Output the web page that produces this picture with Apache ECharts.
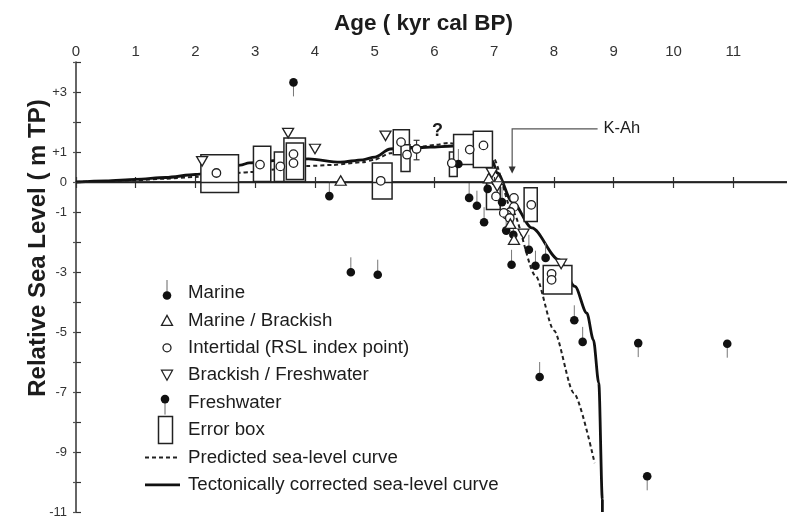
<!DOCTYPE html>
<html>
<head>
<meta charset="utf-8">
<script src="https://cdn.jsdelivr.net/npm/echarts@6/dist/echarts.min.js"></script>
<style>
  html, body { margin: 0; padding: 0; background: #fff; }
  #chart { width: 787px; height: 520px; }
</style>
</head>
<body>
<div id="chart"></div>
<script>
// Relative sea-level observations, ages in kyr cal BP, levels in m TP
const marine = [
  [4.24, -0.47], [4.60, -3.01], [5.05, -3.09], [6.40, 0.60], [6.89, -0.23],
  [6.58, -0.53], [6.71, -0.79], [7.13, -0.67], [6.83, -1.34], [7.20, -1.62],
  [7.32, -1.76], [7.58, -2.26], [7.86, -2.53], [7.29, -2.76], [7.69, -2.79],
  [8.34, -4.61], [8.48, -5.33], [7.76, -6.50]
];
const marineBrackish = [
  [4.43, 0.05], [6.91, 0.13], [7.07, 0.08], [7.27, -1.39], [7.33, -1.92]
];
const intertidal = [
  [2.35, 0.30], [3.08, 0.58], [3.42, 0.52], [3.64, 0.93], [3.64, 0.63],
  [5.10, 0.04], [5.44, 1.33], [5.54, 0.91], [5.70, 1.10], [6.29, 0.63],
  [6.59, 1.08], [6.82, 1.22], [7.03, -0.48], [7.33, -0.53], [7.33, -0.83],
  [7.27, -1.00], [7.21, -1.09], [7.16, -1.03], [7.26, -1.20], [7.62, -0.76],
  [7.96, -3.06], [7.96, -3.26]
];
const brackishFreshwater = [
  [2.11, 0.69], [3.55, 1.63], [4.00, 1.10], [5.18, 1.54], [6.96, 0.30],
  [7.05, -0.15], [7.49, -1.73], [8.12, -2.73]
];
const freshwater = [
  [3.64, 3.32], [9.41, -5.37], [10.90, -5.39], [9.56, -9.81]
];
// vertical uncertainty of an index point: [age, lower, upper]
const indexPointRange = [[5.70, 0.74, 1.39]];
// error boxes: [age from, age to, level low, level high]
const errorBoxes = [
  [2.09, 2.72, -0.35, 0.91], [2.97, 3.26, 0.02, 1.19], [3.32, 3.50, 0.02, 1.00],
  [3.48, 3.84, 0.02, 1.47], [3.52, 3.81, 0.08, 1.30], [4.96, 5.29, -0.57, 0.63],
  [5.31, 5.58, 0.91, 1.74], [5.44, 5.59, 0.35, 1.24], [6.25, 6.38, 0.18, 1.00],
  [6.32, 6.90, 0.58, 1.58], [6.65, 6.97, 0.48, 1.69], [6.87, 7.10, -0.92, -0.02],
  [7.50, 7.72, -1.32, -0.19], [7.82, 8.30, -3.73, -2.78]
];
const predictedCurve = [
  [0, 0], [0.5, 0.03], [1, 0.06], [1.5, 0.11], [2, 0.17], [2.4, 0.24], [2.75, 0.31],
  [2.9, 0.33], [3.4, 0.43], [3.85, 0.53], [4.3, 0.57], [4.8, 0.66], [5.0, 0.75],
  [5.26, 0.96], [5.6, 1.12], [6.02, 1.24], [6.23, 1.30], [6.6, 1.18], [6.85, 1.05],
  [6.98, 0.81], [7.3, -0.96], [7.69, -3.12], [8.0, -4.95], [8.33, -7.03], [8.68, -9.37]
];
const correctedCurve = [
  [0, 0], [0.5, 0.04], [1, 0.09], [1.5, 0.15], [2, 0.25], [2.4, 0.40], [2.75, 0.56],
  [2.9, 0.64], [3.4, 0.72], [3.89, 0.77], [4.42, 0.66], [4.8, 0.74], [5.0, 0.83],
  [5.26, 1.10], [5.5, 1.15], [5.79, 1.15], [5.93, 1.16], [6.3, 1.20], [6.7, 1.10],
  [6.97, 0.70], [7.05, 0.30], [7.3, -0.65], [7.63, -1.53], [8.08, -2.59],
  [8.35, -3.48], [8.55, -4.37], [8.66, -5.26], [8.75, -6.70], [8.81, -10.59], [8.81, -11]
];
// tephra marker: [age, arrow tip level, bracket level, bracket end age]
const tephra = [[7.30, 0.28, 1.77, 8.73]];
const tephraLabel = 'K-Ah';
const queryMarks = [[6.05, 1.71]];
const ageTicks = [0, 1, 2, 3, 4, 5, 6, 7, 8, 9, 10, 11];
const levelTicks = [-11, -10, -9, -8, -7, -6, -5, -4, -3, -2, -1, 0, 1, 2, 3, 4];
const levelLabels = [3, 1, 0, -1, -3, -5, -7, -9, -11];

const FONT = "'Liberation Sans', Arial, sans-serif";
const INK = '#1c1c1c';
const AXIS = '#333';

const chart = echarts.init(document.getElementById('chart'), null, { renderer: 'canvas' });

const levelFormatter = v => {
  if (!levelLabels.includes(v)) return '';
  return v > 0 ? '+' + v : String(v);
};

const legendRows = [
  'Marine', 'Marine / Brackish', 'Intertidal (RSL index point)', 'Brackish / Freshwater',
  'Freshwater', 'Error box', 'Predicted sea-level curve', 'Tectonically corrected sea-level curve'
];
const rowY = i => 293 + 27.4 * i;
const legendGraphics = [];
legendRows.forEach((t, i) => {
  legendGraphics.push({
    type: 'text', x: 188, y: rowY(i), z: 100,
    style: { text: t, font: '18.7px ' + FONT, fill: INK, verticalAlign: 'middle' }
  });
});
legendGraphics.push(
  { type: 'line', shape: { x1: 167, y1: rowY(0) - 13, x2: 167, y2: rowY(0) + 1 }, style: { stroke: '#666', lineWidth: 1 }, z: 100 },
  { type: 'circle', shape: { cx: 167, cy: rowY(0) + 2.5, r: 4.3 }, style: { fill: '#111' }, z: 100 },
  { type: 'polygon', shape: { points: [[161.5, rowY(1) + 5], [172.5, rowY(1) + 5], [167, rowY(1) - 5]] }, style: { fill: '#fff', stroke: '#222', lineWidth: 1.3 }, z: 100 },
  { type: 'circle', shape: { cx: 167, cy: rowY(2), r: 4 }, style: { fill: '#fff', stroke: '#222', lineWidth: 1.3 }, z: 100 },
  { type: 'polygon', shape: { points: [[161.5, rowY(3) - 5], [172.5, rowY(3) - 5], [167, rowY(3) + 5]] }, style: { fill: '#fff', stroke: '#222', lineWidth: 1.3 }, z: 100 },
  { type: 'line', shape: { x1: 165, y1: rowY(4) - 2, x2: 165, y2: rowY(4) + 12 }, style: { stroke: '#666', lineWidth: 1 }, z: 100 },
  { type: 'circle', shape: { cx: 165, cy: rowY(4) - 3.5, r: 4.3 }, style: { fill: '#111' }, z: 100 },
  { type: 'rect', shape: { x: 158.5, y: rowY(5) - 13.5, width: 14, height: 27 }, style: { fill: '#fff', stroke: '#222', lineWidth: 1.5 }, z: 100 },
  { type: 'line', shape: { x1: 145, y1: rowY(6), x2: 180, y2: rowY(6) }, style: { stroke: '#222', lineWidth: 2, lineDash: [4, 3] }, z: 100 },
  { type: 'line', shape: { x1: 145, y1: rowY(7), x2: 180, y2: rowY(7) }, style: { stroke: '#111', lineWidth: 2.8 }, z: 100 }
);

const option = {
  animation: false,
  backgroundColor: '#fff',
  textStyle: { fontFamily: FONT },
  grid: { left: 76, right: 0, top: 62, bottom: 8, containLabel: false },
  xAxis: [
    {
      type: 'value', position: 'top', min: 0, max: 11.9, interval: 1,
      name: 'Age ( kyr cal BP)', nameLocation: 'middle', nameGap: 27,
      nameTextStyle: { fontSize: 22.5, fontWeight: 'bold', color: INK, fontFamily: FONT, padding: [0, 16, 0, 0] },
      axisLine: { lineStyle: { color: AXIS, width: 1.5 } },
      axisTick: { inside: true, length: 6, customValues: ageTicks, lineStyle: { color: AXIS, width: 1.2 } },
      axisLabel: { fontSize: 15, color: '#333', margin: 3, fontFamily: FONT, customValues: ageTicks },
      splitLine: { show: false }
    },
    {
      type: 'value', position: 'bottom', min: 0, max: 11.9, interval: 1,
      axisLine: { lineStyle: { color: AXIS, width: 1.5 } },
      axisTick: { inside: true, length: 5, customValues: ageTicks, lineStyle: { color: AXIS, width: 1.2 } },
      axisLabel: { show: false },
      splitLine: { show: false }
    }
  ],
  yAxis: [
    {
      type: 'value', position: 'left', min: -11, max: 4, interval: 1,
      name: 'Relative Sea Level ( m TP)', nameLocation: 'middle', nameGap: 26, nameRotate: 90,
      nameMoveOverlap: false,
      nameTextStyle: { fontSize: 24, fontWeight: 'bold', color: INK, fontFamily: FONT, padding: [0, 0, 0, 78] },
      axisLine: { lineStyle: { color: AXIS, width: 1.5 } },
      axisTick: { inside: true, length: 5, lineStyle: { color: AXIS, width: 1.2 } },
      axisLabel: { fontSize: 13, color: '#333', margin: 9, fontFamily: FONT, formatter: levelFormatter },
      splitLine: { show: false }
    },
    {
      type: 'value', position: 'right', min: -11, max: 4, interval: 1,
      axisLine: { show: false },
      axisTick: { inside: true, length: 3, customValues: levelTicks, lineStyle: { color: '#555', width: 1.2 } },
      axisLabel: { show: false },
      splitLine: { show: false }
    }
  ],
  graphic: legendGraphics,
  series: [
    {
      name: 'Predicted sea-level curve', type: 'line', data: predictedCurve, z: 1,
      showSymbol: false, smooth: 0.25, smoothMonotone: 'x', silent: true,
      lineStyle: { color: '#222', width: 2, type: [4, 3] },
      markLine: {
        silent: true, symbol: ['none', 'none'], label: { show: false },
        lineStyle: { color: '#222', width: 1.4, type: 'solid' },
        data: [{ yAxis: 0 }]
      }
    },
    {
      name: 'Tectonically corrected sea-level curve', type: 'line', data: correctedCurve, z: 1,
      showSymbol: false, smooth: 0.3, smoothMonotone: 'x', silent: true,
      lineStyle: { color: '#111', width: 2.8 }
    },
    {
      name: 'Error box', type: 'custom', z: 2, data: errorBoxes,
      encode: { x: [0, 1], y: [2, 3] },
      renderItem: (params, api) => {
        const a = api.coord([api.value(0), api.value(3)]);
        const b = api.coord([api.value(1), api.value(2)]);
        return {
          type: 'rect',
          shape: { x: a[0], y: a[1], width: b[0] - a[0], height: b[1] - a[1] },
          style: { fill: '#fff', stroke: '#222', lineWidth: 1.5 }
        };
      }
    },
    {
      name: 'Index point range', type: 'custom', z: 3, data: indexPointRange,
      encode: { x: 0, y: [1, 2] },
      renderItem: (params, api) => {
        const lo = api.coord([api.value(0), api.value(1)]);
        const hi = api.coord([api.value(0), api.value(2)]);
        const st = { stroke: '#333', lineWidth: 1.2 };
        return {
          type: 'group', children: [
            { type: 'line', shape: { x1: lo[0], y1: lo[1], x2: hi[0], y2: hi[1] }, style: st },
            { type: 'line', shape: { x1: lo[0] - 3, y1: lo[1], x2: lo[0] + 3, y2: lo[1] }, style: st },
            { type: 'line', shape: { x1: hi[0] - 3, y1: hi[1], x2: hi[0] + 3, y2: hi[1] }, style: st }
          ]
        };
      }
    },
    {
      name: 'Marine', type: 'custom', z: 4, data: marine,
      renderItem: (params, api) => {
        const p = api.coord([api.value(0), api.value(1)]);
        return {
          type: 'group', children: [
            { type: 'line', shape: { x1: p[0], y1: p[1] - 15, x2: p[0], y2: p[1] }, style: { stroke: '#777', lineWidth: 1 } },
            { type: 'circle', shape: { cx: p[0], cy: p[1], r: 4.3 }, style: { fill: '#111' } }
          ]
        };
      }
    },
    {
      name: 'Freshwater', type: 'custom', z: 4, data: freshwater,
      renderItem: (params, api) => {
        const p = api.coord([api.value(0), api.value(1)]);
        return {
          type: 'group', children: [
            { type: 'line', shape: { x1: p[0], y1: p[1], x2: p[0], y2: p[1] + 14 }, style: { stroke: '#777', lineWidth: 1 } },
            { type: 'circle', shape: { cx: p[0], cy: p[1], r: 4.3 }, style: { fill: '#111' } }
          ]
        };
      }
    },
    {
      name: 'Intertidal (RSL index point)', type: 'scatter', z: 5, data: intertidal,
      symbol: 'circle', symbolSize: 8.5,
      itemStyle: { color: '#fff', borderColor: '#222', borderWidth: 1.3, opacity: 1 }
    },
    {
      name: 'Marine / Brackish', type: 'scatter', z: 5, data: marineBrackish,
      symbol: 'triangle', symbolSize: [11, 9.5],
      itemStyle: { color: '#fff', borderColor: '#222', borderWidth: 1.3, opacity: 1 }
    },
    {
      name: 'Brackish / Freshwater', type: 'scatter', z: 5, data: brackishFreshwater,
      symbol: 'triangle', symbolSize: [11, 9.5], symbolRotate: 180,
      itemStyle: { color: '#fff', borderColor: '#222', borderWidth: 1.3, opacity: 1 }
    },
    {
      name: tephraLabel, type: 'custom', z: 6, data: tephra,
      encode: { x: [0, 3], y: [1, 2] },
      renderItem: (params, api) => {
        const tip = api.coord([api.value(0), api.value(1)]);
        const top = api.coord([api.value(0), api.value(2)]);
        const end = api.coord([api.value(3), api.value(2)]);
        return {
          type: 'group', children: [
            { type: 'polyline', shape: { points: [[end[0], end[1]], [top[0], top[1]], [tip[0], tip[1] - 6]] }, style: { stroke: '#555', lineWidth: 1.2, fill: null } },
            { type: 'polygon', shape: { points: [[tip[0] - 3.5, tip[1] - 7], [tip[0] + 3.5, tip[1] - 7], [tip[0], tip[1]]] }, style: { fill: '#333' } },
            { type: 'text', style: { text: tephraLabel, x: end[0] + 6, y: end[1], verticalAlign: 'middle', font: '16.5px ' + FONT, fill: INK } }
          ]
        };
      }
    },
    {
      name: 'query', type: 'custom', z: 6, data: queryMarks,
      renderItem: (params, api) => {
        const p = api.coord([api.value(0), api.value(1)]);
        return {
          type: 'text',
          style: { text: '?', x: p[0], y: p[1], align: 'center', verticalAlign: 'middle', font: 'bold 18px ' + FONT, fill: INK }
        };
      }
    }
  ]
};
chart.setOption(option);
</script>
</body>
</html>
